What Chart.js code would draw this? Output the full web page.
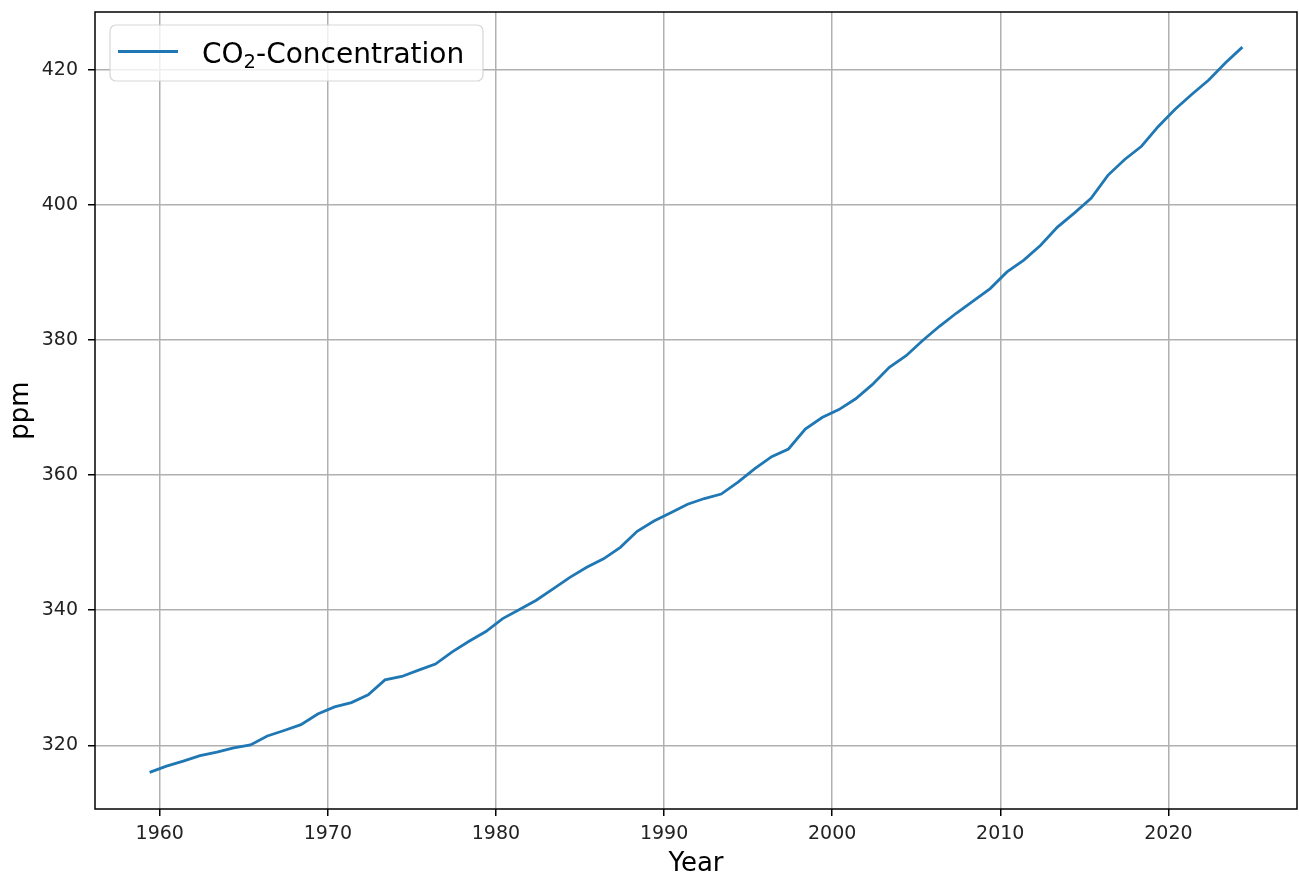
<!DOCTYPE html>
<html lang="en">
<head>
    <meta charset="UTF-8">
    <title>CO2 Concentration</title>
    <script src="https://cdn.jsdelivr.net/npm/chart.js"></script>
    <style>
        body { margin: 0; background: #fff; }
        #chart-wrap { width: 1299px; height: 877px; }
    </style>
</head>
<body>
    <div id="chart-wrap">
        <canvas id="co2Chart" width="1299" height="877"></canvas>
    </div>

    <script>
        // Data (annual means, plotted near mid-year)
        const yearPositions = [
            1959.4, 1960.4, 1961.4, 1962.4, 1963.4, 1964.4, 1965.4, 1966.4, 1967.4, 1968.4,
            1969.4, 1970.4, 1971.4, 1972.4, 1973.4, 1974.4, 1975.4, 1976.4, 1977.4, 1978.4,
            1979.4, 1980.4, 1981.4, 1982.4, 1983.4, 1984.4, 1985.4, 1986.4, 1987.4, 1988.4,
            1989.4, 1990.4, 1991.4, 1992.4, 1993.4, 1994.4, 1995.4, 1996.4, 1997.4, 1998.4,
            1999.4, 2000.4, 2001.4, 2002.4, 2003.4, 2004.4, 2005.4, 2006.4, 2007.4, 2008.4,
            2009.4, 2010.4, 2011.4, 2012.4, 2013.4, 2014.4, 2015.4, 2016.4, 2017.4, 2018.4,
            2019.4, 2020.4, 2021.4, 2022.4, 2023.4, 2024.4
        ];
        const co2Ppm = [
            315.98, 316.91, 317.64, 318.45, 318.99, 319.62, 320.04, 321.37, 322.18, 323.05,
            324.62, 325.68, 326.32, 327.46, 329.68, 330.19, 331.12, 332.03, 333.84, 335.41,
            336.84, 338.76, 340.12, 341.48, 343.15, 344.87, 346.35, 347.61, 349.31, 351.69,
            353.20, 354.45, 355.70, 356.54, 357.21, 358.96, 360.97, 362.74, 363.88, 366.84,
            368.54, 369.71, 371.32, 373.45, 375.98, 377.70, 379.98, 382.09, 384.02, 385.83,
            387.64, 390.10, 391.85, 394.06, 396.74, 398.81, 401.01, 404.41, 406.76, 408.72,
            411.65, 414.21, 416.41, 418.53, 421.08, 423.40
        ];
        const xTickValues = [1960, 1970, 1980, 1990, 2000, 2010, 2020];
        const yTickValues = [320, 340, 360, 380, 400, 420];
        const seriesLabel = 'CO\u2082-Concentration';

        const FONT = '"DejaVu Sans", "Liberation Sans", sans-serif';
        const lineColor = '#1f77b4';

        // axes frame (all four spines) on top of the line
        const framePlugin = {
            id: 'frame',
            afterDatasetsDraw(chart) {
                const { ctx, chartArea: a } = chart;
                ctx.save();
                ctx.strokeStyle = '#000';
                ctx.lineWidth = 1.5;
                ctx.strokeRect(a.left, a.top, a.right - a.left, a.bottom - a.top);
                ctx.restore();
            }
        };

        // matplotlib-style legend in the upper left of the axes
        const legendPlugin = {
            id: 'mplLegend',
            afterDraw(chart) {
                const { ctx, chartArea: a } = chart;
                const ds = chart.data.datasets[0];
                const x = a.left + 15, y = a.top + 13, w = 373, h = 56, r = 6;
                ctx.save();
                ctx.beginPath();
                ctx.roundRect(x, y, w, h, r);
                ctx.fillStyle = 'rgba(255,255,255,0.8)';
                ctx.fill();
                ctx.strokeStyle = 'rgba(204,204,204,0.8)';
                ctx.lineWidth = 1.2;
                ctx.stroke();

                ctx.beginPath();
                ctx.moveTo(x + 8, y + 26.5);
                ctx.lineTo(x + 68, y + 26.5);
                ctx.strokeStyle = ds.borderColor;
                ctx.lineWidth = ds.borderWidth;
                ctx.stroke();

                // label with a real subscript "2": split around the subscript char
                const [pre, post] = ds.label.split('\u2082');
                ctx.fillStyle = '#000';
                ctx.textBaseline = 'alphabetic';
                let tx = x + 92;
                const base = y + 38;
                ctx.font = '28px ' + FONT;
                ctx.fillText(pre, tx, base);
                tx += ctx.measureText(pre).width;
                ctx.font = '19.6px ' + FONT;
                ctx.fillText('2', tx, base + 5);
                tx += ctx.measureText('2').width;
                ctx.font = '28px ' + FONT;
                ctx.fillText(post, tx, base);
                ctx.restore();
            }
        };

        const ctx = document.getElementById('co2Chart').getContext('2d');
        new Chart(ctx, {
            type: 'line',
            data: {
                datasets: [{
                    label: seriesLabel,
                    data: yearPositions.map((yr, i) => ({ x: yr, y: co2Ppm[i] })),
                    borderColor: lineColor,
                    borderWidth: 2.8,
                    pointRadius: 0,
                    tension: 0,
                    fill: false
                }]
            },
            options: {
                responsive: false,
                animation: false,
                devicePixelRatio: 1,
                layout: { padding: { top: 12, right: 2, left: 0, bottom: 0 } },
                plugins: {
                    legend: { display: false },
                    tooltip: { enabled: false }
                },
                scales: {
                    x: {
                        type: 'linear',
                        min: 1956.15,
                        max: 2027.65,
                        afterFit: s => {
                            s.height = 68;
                            s.paddingLeft = 0;
                            s.paddingRight = 0;
                        },
                        afterBuildTicks: s => { s.ticks = xTickValues.map(v => ({ value: v })); },
                        border: { display: false },
                        grid: {
                            color: '#b0b0b0',
                            lineWidth: 1.5,
                            drawTicks: true,
                            tickLength: 7,
                            tickColor: '#000',
                            tickWidth: 1.5
                        },
                        ticks: {
                            padding: 7,
                            color: '#222',
                            font: { family: FONT, size: 19 },
                            callback: v => String(v),
                            maxRotation: 0
                        },
                        title: {
                            display: true,
                            text: 'Year',
                            color: '#000',
                            font: { family: FONT, size: 26, lineHeight: 1.0 },
                            padding: { top: 0, bottom: 0 }
                        }
                    },
                    y: {
                        type: 'linear',
                        min: 310.56,
                        max: 428.6,
                        afterFit: s => {
                            s.width = 95;
                            s.paddingTop = 0;
                            s.paddingBottom = 0;
                        },
                        afterBuildTicks: s => { s.ticks = yTickValues.map(v => ({ value: v })); },
                        border: { display: false },
                        grid: {
                            color: '#b0b0b0',
                            lineWidth: 1.5,
                            drawTicks: true,
                            tickLength: 7,
                            tickColor: '#000',
                            tickWidth: 1.5
                        },
                        ticks: {
                            padding: 10,
                            color: '#222',
                            font: { family: FONT, size: 19 },
                            callback: v => String(v)
                        },
                        title: {
                            display: true,
                            text: 'ppm',
                            color: '#000',
                            font: { family: FONT, size: 26 },
                            padding: { top: 6, bottom: 0 }
                        }
                    }
                }
            },
            plugins: [framePlugin, legendPlugin]
        });
    </script>
</body>
</html>
